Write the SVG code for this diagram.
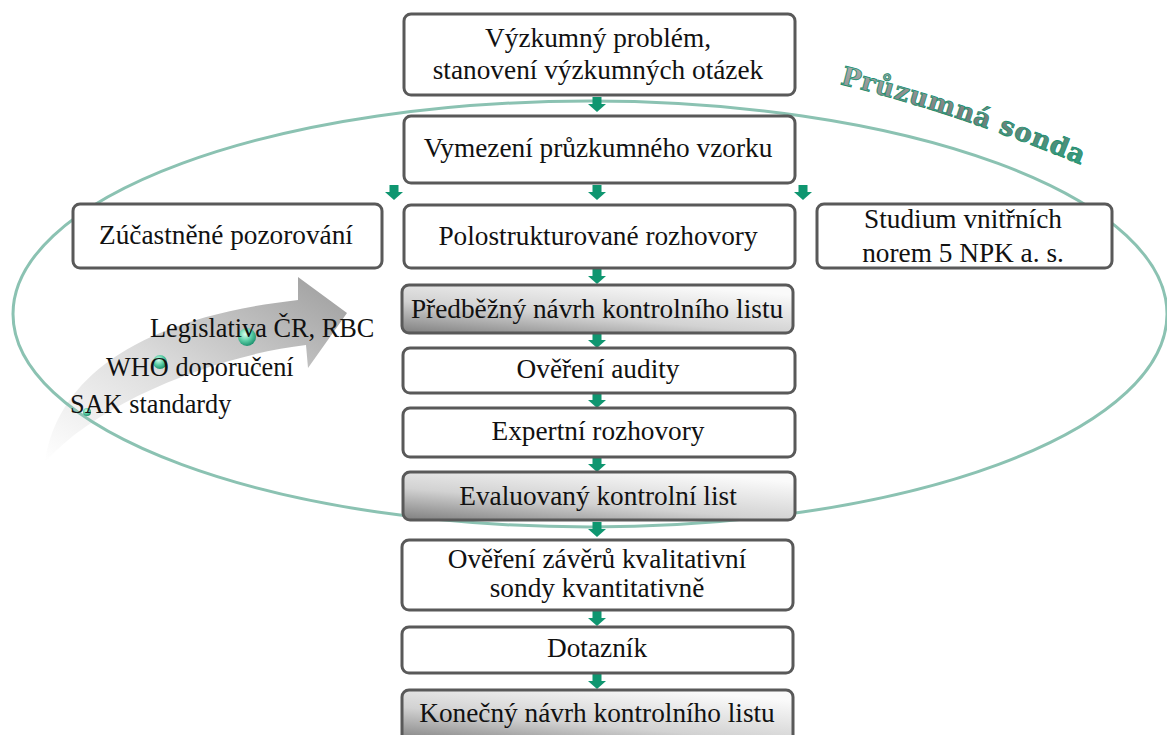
<svg xmlns="http://www.w3.org/2000/svg" width="1167" height="735" viewBox="0 0 1167 735">
<style>
.box{fill:#ffffff;stroke:#595959;stroke-width:3}
.gbox{fill:url(#boxGrad);stroke:#595959;stroke-width:3}
.t{font-family:"Liberation Serif","Times New Roman",serif;font-size:27.3px;fill:#111;text-anchor:middle}
.s{font-family:"Liberation Serif","Times New Roman",serif;font-size:26.3px;fill:#111}
.arr{fill:#0f9670}
.title{font-family:"DejaVu Serif",serif;font-weight:bold;font-size:26px;fill:url(#titleGrad);stroke:#1c9070;stroke-width:0.9;letter-spacing:0.8px}
</style>
<defs>
<linearGradient id="boxGrad" x1="0" y1="1" x2="0.7" y2="0">
<stop offset="0" stop-color="#7f7f7f"/>
<stop offset="0.45" stop-color="#d2d2d2"/>
<stop offset="1" stop-color="#fafafa"/>
</linearGradient>
<linearGradient id="arrowGrad" x1="0" y1="1" x2="1" y2="0">
<stop offset="0" stop-color="#ffffff"/>
<stop offset="0.45" stop-color="#dcdcdc"/>
<stop offset="1" stop-color="#9c9c9c"/>
</linearGradient>
<linearGradient id="titleGrad" x1="0" y1="0" x2="0" y2="1">
<stop offset="0" stop-color="#b0b0b0"/>
<stop offset="0.5" stop-color="#7a7a7a"/>
<stop offset="1" stop-color="#2aa07c"/>
</linearGradient>
<radialGradient id="ball" cx="0.4" cy="0.35" r="0.7">
<stop offset="0" stop-color="#d8fff0"/>
<stop offset="0.5" stop-color="#5fd0a8"/>
<stop offset="1" stop-color="#148a68"/>
</radialGradient>
<path id="dn" d="M -4.5 0 H 4.5 V 7 H 9 L 0 15 L -9 7 H -4.5 Z"/>
<path id="titlePath" d="M 840 84 Q 960 114 1094 170"/>
</defs>

<!-- curved arrow -->
<g id="influence-arrow">
<path d="M 45 462 C 55 390 120 320 298 300 L 298 277 L 347 313 L 308 368 L 306 345 C 220 355 100 400 45 462 Z" fill="url(#arrowGrad)"/>
</g>

<!-- ellipse -->
<ellipse cx="590" cy="314" rx="577" ry="213" fill="none" stroke="#8bc2b2" stroke-width="3"/>

<text class="title"><textPath href="#titlePath">Průzumná sonda</textPath></text>

<g id="connectors">
<use href="#dn" class="arr" x="597" y="97"/>
<use href="#dn" class="arr" x="597" y="185"/>
<use href="#dn" class="arr" x="394" y="185"/>
<use href="#dn" class="arr" x="803" y="185"/>
<use href="#dn" class="arr" x="597" y="269"/>
<use href="#dn" class="arr" x="597" y="333"/>
<use href="#dn" class="arr" x="597" y="393"/>
<use href="#dn" class="arr" x="597" y="457"/>
<use href="#dn" class="arr" x="597" y="522"/>
<use href="#dn" class="arr" x="597" y="611"/>
<use href="#dn" class="arr" x="597" y="674"/>
</g>

<g id="n1"><rect class="box" x="404" y="14" width="391" height="81" rx="7"/>
<text class="t" x="598" y="47">Výzkumný problém,</text>
<text class="t" x="598" y="79">stanovení výzkumných otázek</text></g>

<g id="n2"><rect class="box" x="404" y="116" width="391" height="67" rx="7"/>
<text class="t" x="598" y="157">Vymezení průzkumného vzorku</text></g>

<g id="n3"><rect class="box" x="73" y="204" width="309" height="64" rx="7"/>
<text class="t" x="226" y="244">Zúčastněné pozorování</text></g>

<g id="n4"><rect class="box" x="404" y="205" width="391" height="63" rx="7"/>
<text class="t" x="598" y="245">Polostrukturované rozhovory</text></g>

<g id="n5"><rect class="box" x="817" y="204" width="295" height="64" rx="7"/>
<text class="t" x="963" y="228">Studium vnitřních</text>
<text class="t" x="963" y="262">norem 5 NPK a. s.</text></g>

<g id="n6"><rect class="gbox" x="402" y="285" width="391" height="48" rx="7"/>
<text class="t" x="597" y="318">Předběžný návrh kontrolního listu</text></g>

<g id="n7"><rect class="box" x="403" y="348" width="392" height="45" rx="7"/>
<text class="t" x="598" y="378">Ověření audity</text></g>

<g id="n8"><rect class="box" x="403" y="408" width="392" height="49" rx="7"/>
<text class="t" x="598" y="440">Expertní rozhovory</text></g>

<g id="n9"><rect class="gbox" x="403" y="472" width="392" height="48" rx="7"/>
<text class="t" x="598" y="505">Evaluovaný kontrolní list</text></g>

<g id="n10"><rect class="box" x="402" y="540" width="391" height="70" rx="7"/>
<text class="t" x="597" y="568">Ověření závěrů kvalitativní</text>
<text class="t" x="597" y="597">sondy kvantitativně</text></g>

<g id="n11"><rect class="box" x="402" y="627" width="391" height="46" rx="7"/>
<text class="t" x="597" y="657">Dotazník</text></g>

<g id="n12"><rect class="gbox" x="402" y="690" width="391" height="52" rx="7"/>
<text class="t" x="597" y="722">Konečný návrh kontrolního listu</text></g>

<g id="sources">
<circle cx="247" cy="337" r="9" fill="url(#ball)"/>
<circle cx="160" cy="362" r="7" fill="url(#ball)"/>
<circle cx="87" cy="412" r="4" fill="url(#ball)"/>
<text class="s" x="150" y="337">Legislativa ČR, RBC</text>
<text class="s" x="106" y="376">WHO doporučení</text>
<text class="s" x="70" y="413">SAK standardy</text>
</g>
</svg>
